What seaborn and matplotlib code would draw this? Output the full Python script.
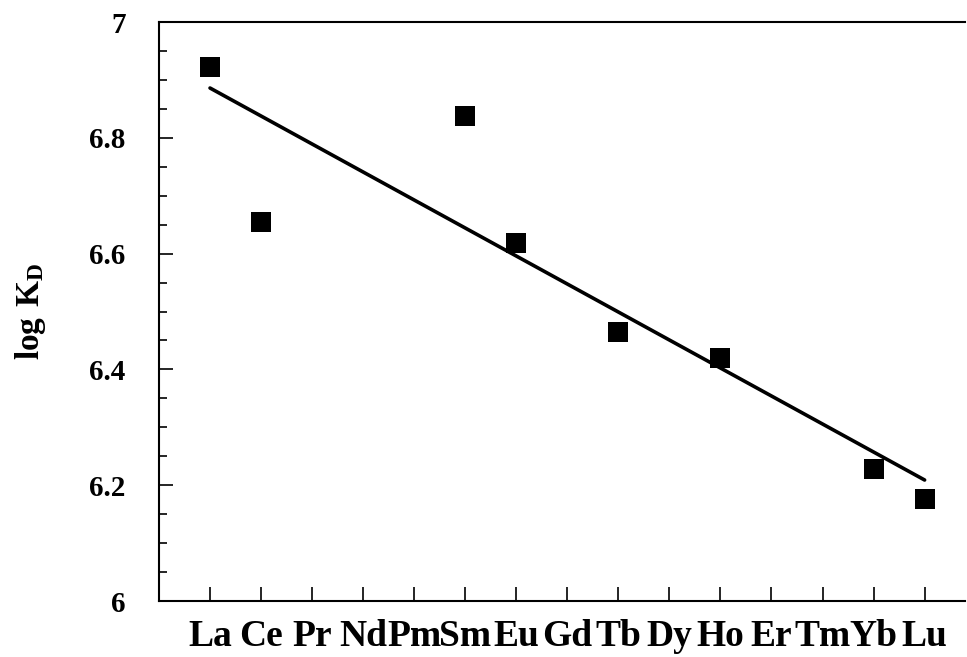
import matplotlib
matplotlib.use("Agg")
import matplotlib.pyplot as plt
import seaborn as sns
import pandas as pd
from matplotlib.ticker import MultipleLocator

# Data
elements = ["La", "Ce", "Pr", "Nd", "Pm", "Sm", "Eu", "Gd", "Tb", "Dy",
            "Ho", "Er", "Tm", "Yb", "Lu"]
point_elements = ["La", "Ce", "Sm", "Eu", "Tb", "Ho", "Yb", "Lu"]
log_kd = [6.922, 6.655, 6.838, 6.618, 6.465, 6.420, 6.228, 6.176]
fit_elements = ["La", "Lu"]
fit_values = [6.886, 6.209]

pos = {el: i for i, el in enumerate(elements)}
pts = pd.DataFrame({"x": [pos[e] for e in point_elements], "y": log_kd})
fit = pd.DataFrame({"x": [pos[e] for e in fit_elements], "y": fit_values})

sns.set_style("ticks")
plt.rcParams["font.family"] = ["Liberation Serif", "DejaVu Serif"]
plt.rcParams["mathtext.fontset"] = "custom"
plt.rcParams["mathtext.rm"] = "Liberation Serif"
plt.rcParams["mathtext.bf"] = "Liberation Serif:bold"
plt.rcParams["text.color"] = "black"
plt.rcParams["axes.labelcolor"] = "black"
plt.rcParams["xtick.color"] = "black"
plt.rcParams["ytick.color"] = "black"

fig = plt.figure(figsize=(9.67, 6.57), dpi=100)
ax = fig.add_axes([0.1644, 0.0852, 0.834, 0.8813])

sns.lineplot(data=fit, x="x", y="y", color="black", linewidth=2.6, ax=ax)
sns.scatterplot(data=pts, x="x", y="y", marker="s", s=190, color="black",
                edgecolor="black", linewidth=0, ax=ax, zorder=3)

ax.set_xlim(-1.0, 14.8)
ax.set_ylim(6, 7)
ax.set_xticks(range(len(elements)))
ax.set_xticklabels(elements, fontsize=27, fontweight="bold")
ax.yaxis.set_minor_locator(MultipleLocator(0.05))
ax.set_yticks([6, 6.2, 6.4, 6.6, 6.8, 7])
ax.set_yticklabels(["6", "6.2", "6.4", "6.6", "6.8", "7"], fontsize=21, fontweight="bold")

ax.tick_params(axis="x", direction="in", length=10, width=1.2, pad=13)
ax.tick_params(axis="y", which="major", direction="in", length=10, width=1.2, pad=24)
ax.tick_params(axis="y", which="minor", direction="in", length=6, width=1.2)

for side in ["left", "bottom", "top"]:
    ax.spines[side].set_linewidth(1.5)
    ax.spines[side].set_color("black")
ax.spines["right"].set_visible(False)

ax.set_xlabel("")
ax.set_ylabel(r"$\mathbf{log\ K_D}$", fontsize=24, labelpad=30)

fig.savefig("out.png", dpi=100)
